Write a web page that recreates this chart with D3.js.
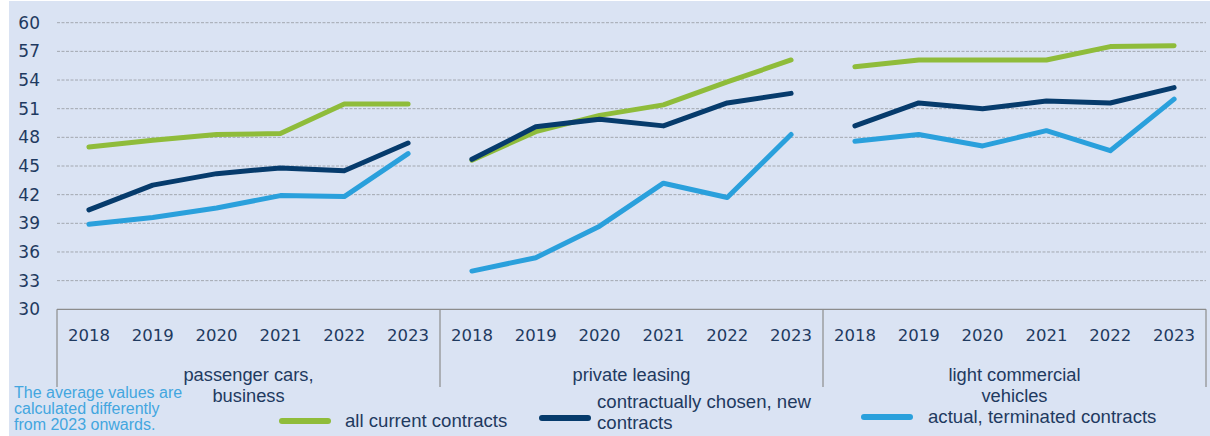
<!DOCTYPE html>
<html>
<head>
<meta charset="utf-8">
<script src="https://cdn.jsdelivr.net/npm/d3@7"></script>
<style>
  body { margin: 0; background: #ffffff; }
  svg { display: block; }
</style>
</head>
<body>
<div id="chart"></div>
<script>
// data
var groups = ["passenger cars, business", "private leasing", "light commercial vehicles"];
var groupLines = [["passenger cars,", "business"], ["private leasing"], ["light commercial", "vehicles"]];
var years = ["2018", "2019", "2020", "2021", "2022", "2023"];
var yTicks = [30, 33, 36, 39, 42, 45, 48, 51, 54, 57, 60];

var seriesNames = ["all current contracts", "contractually chosen, new contracts", "actual, terminated contracts"];
var allCurrent = [
    [47.0, 47.7, 48.3, 48.4, 51.5, 51.5],
    [45.6, 48.6, 50.3, 51.4, 53.8, 56.1],
    [55.4, 56.1, 56.1, 56.1, 57.5, 57.6]
];
var chosenNew = [
    [40.4, 43.0, 44.2, 44.8, 44.5, 47.4],
    [45.7, 49.1, 49.9, 49.2, 51.6, 52.6],
    [49.2, 51.6, 51.0, 51.8, 51.6, 53.2]
];
var terminated = [
    [38.9, 39.6, 40.6, 41.9, 41.8, 46.3],
    [34.0, 35.4, 38.7, 43.2, 41.7, 48.3],
    [47.6, 48.3, 47.1, 48.7, 46.6, 52.0]
];
var note = ["The average values are", "calculated differently", "from 2023 onwards."];

var w = 1210;
var h = 436;
var plotLeft = 57, plotRight = 1206, plotTop = 22.7, plotBottom = 309.3;
var colors = ["#8fbc3a", "#063b6c", "#2aa0dc"];
var textColor = "#1f3a60";

var svg = d3.select("#chart")
    .append("svg")
    .attr("width", w)
    .attr("height", h);

svg.append("rect")
    .attr("x", 9).attr("y", 1)
    .attr("width", w - 9).attr("height", h - 1)
    .attr("fill", "#dae3f3");

// scales
var x0 = d3.scaleBand().domain(groups).range([plotLeft, plotRight]);
var x1 = d3.scaleBand().domain(years).range([0, x0.bandwidth()]);
var y = d3.scaleLinear().domain([30, 60]).range([plotBottom, plotTop]);

// gridlines
svg.append("g")
    .selectAll("line")
    .data(yTicks.slice(1))
    .enter().append("line")
    .attr("x1", plotLeft).attr("x2", plotRight)
    .attr("y1", function(d) { return y(d); })
    .attr("y2", function(d) { return y(d); })
    .attr("stroke", "#a3a8b0")
    .attr("stroke-width", 1)
    .attr("stroke-dasharray", "3,1.5");

// y axis labels
var yAxis = d3.axisLeft(y).tickValues(yTicks).tickSize(0).tickPadding(0);
var gy = svg.append("g")
    .attr("transform", "translate(40,0)")
    .call(yAxis);
gy.select(".domain").remove();
gy.selectAll("text")
    .attr("fill", textColor)
    .style("font-family", "DejaVu Sans, sans-serif")
    .style("font-size", "17px");

// category axis box
svg.append("line")
    .attr("x1", plotLeft).attr("x2", plotRight)
    .attr("y1", plotBottom).attr("y2", plotBottom)
    .attr("stroke", "#8c8c8c").attr("stroke-width", 1.2);

var seps = groups.map(function(g) { return x0(g); }).concat([plotRight]);
svg.append("g")
    .selectAll("line")
    .data(seps)
    .enter().append("line")
    .attr("x1", function(d) { return d; })
    .attr("x2", function(d) { return d; })
    .attr("y1", plotBottom).attr("y2", 387)
    .attr("stroke", "#8c8c8c").attr("stroke-width", 1.2);

// year labels
groups.forEach(function(g) {
    svg.append("g")
        .selectAll("text")
        .data(years)
        .enter().append("text")
        .attr("x", function(d) { return x0(g) + x1(d) + x1.bandwidth() / 2; })
        .attr("y", 341)
        .attr("text-anchor", "middle")
        .attr("fill", textColor)
        .style("font-family", "DejaVu Sans, sans-serif")
        .style("font-size", "16.5px")
        .text(function(d) { return d; });
});

// group labels
groups.forEach(function(g, i) {
    var t = svg.append("text")
        .attr("text-anchor", "middle")
        .attr("fill", textColor)
        .style("font-family", "Liberation Sans, Arial, sans-serif")
        .style("font-size", "18.3px");
    groupLines[i].forEach(function(line, j) {
        t.append("tspan")
            .attr("x", x0(g) + x0.bandwidth() / 2)
            .attr("y", 381 + j * 21)
            .text(line);
    });
});

// lines
var series = [allCurrent, chosenNew, terminated];
var line = d3.line()
    .x(function(d) { return d.x; })
    .y(function(d) { return y(d.v); });

series.forEach(function(s, k) {
    groups.forEach(function(g, i) {
        var pts = s[i].map(function(v, j) {
            return { x: x0(g) + x1(years[j]) + x1.bandwidth() / 2, v: v };
        });
        svg.append("path")
            .datum(pts)
            .attr("d", line)
            .attr("fill", "none")
            .attr("stroke", colors[k])
            .attr("stroke-width", 5)
            .attr("stroke-linecap", "round")
            .attr("stroke-linejoin", "round");
    });
});

// note
var nt = svg.append("text")
    .attr("fill", "#43a6df")
    .style("font-family", "Liberation Sans, Arial, sans-serif")
    .style("font-size", "16px");
note.forEach(function(l, j) {
    nt.append("tspan").attr("x", 14).attr("y", 398 + j * 16).text(l);
});

// legend
var legendItems = [
    { x: 282, y: 421, tx: 345, lines: ["all current contracts"], ty: [427] },
    { x: 542, y: 418, tx: 597, lines: ["contractually chosen, new", "contracts"], ty: [408, 429] },
    { x: 864, y: 417, tx: 928, lines: ["actual, terminated contracts"], ty: [423] }
];
legendItems.forEach(function(d, k) {
    svg.append("line")
        .attr("x1", d.x).attr("x2", d.x + 46)
        .attr("y1", d.y).attr("y2", d.y)
        .attr("stroke", colors[k])
        .attr("stroke-width", 6)
        .attr("stroke-linecap", "round");
    var t = svg.append("text")
        .attr("fill", textColor)
        .style("font-family", "Liberation Sans, Arial, sans-serif")
        .style("font-size", "18.6px");
    d.lines.forEach(function(l, j) {
        t.append("tspan")
            .attr("x", d.tx)
            .attr("y", d.ty[j])
            .text(l);
    });
});
</script>
</body>
</html>
